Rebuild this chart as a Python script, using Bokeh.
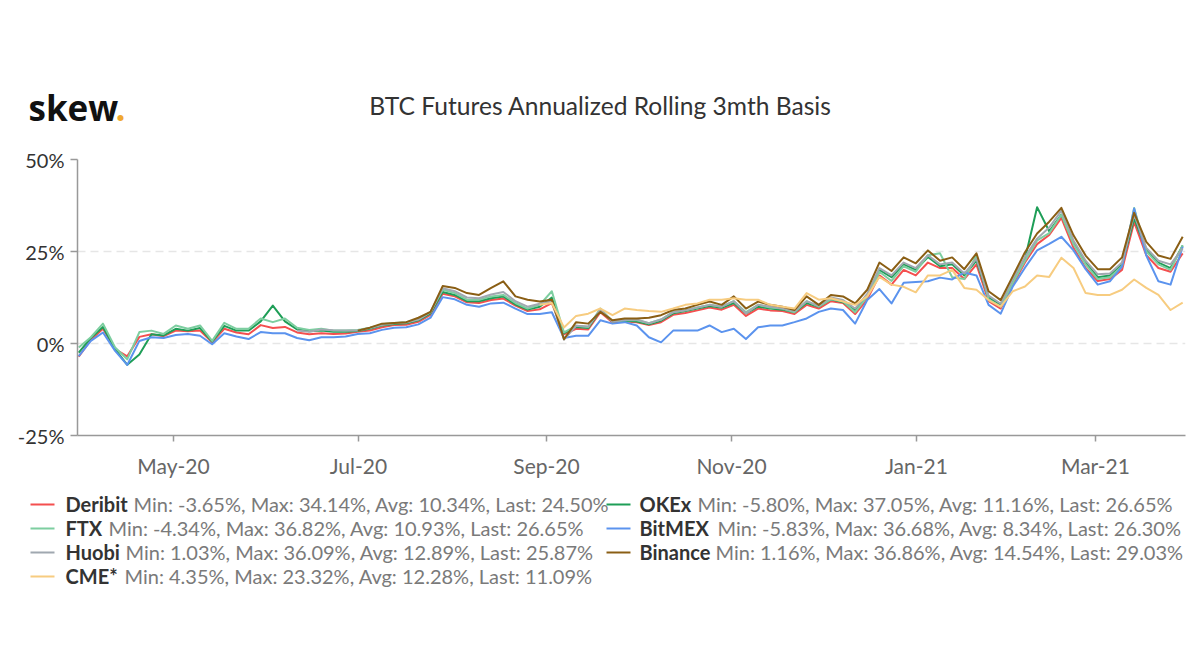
import datetime as dt
from bokeh.plotting import figure
from bokeh.layouts import column
from bokeh.models import Range1d, FixedTicker, DatetimeTickFormatter
from bokeh.core.properties import value
from bokeh.embed import file_html
from bokeh.resources import INLINE

# ---------------- data ----------------
TITLE = "BTC Futures Annualized Rolling 3mth Basis"
LOGO = "skew"
data_start = dt.datetime(2020, 3, 30, 18)
step_days = 4

deribit = [-3.6, 1.0, 4.0, -1.5, -3.5, 1.8, 2.5, 2.0, 3.5, 3.3,
           3.5, 0.3, 4.0, 3.0, 2.5, 5.0, 4.2, 4.5, 3.0, 2.5,
           2.8, 2.6, 2.7, 3.2, 3.5, 4.4, 5.0, 5.1, 5.9, 7.8,
           13.5, 12.8, 11.2, 11.0, 11.8, 12.2, 10.3, 8.8, 9.3, 11.0,
           2.5, 4.0, 3.8, 8.5, 5.7, 6.0, 5.8, 5.0, 5.8, 7.8,
           8.3, 9.0, 9.8, 9.2, 10.5, 7.5, 9.5, 9.0, 8.8, 8.0,
           10.5, 9.5, 11.5, 11.0,
           8.0, 12.0, 18.5, 16.0, 20.0, 18.5, 22.0, 20.5, 20.5, 17.5,
           21.5, 11.5, 9.5, 16.0, 22.0, 27.0, 29.5, 34.14, 26.0, 20.5,
           17.0, 17.5, 20.0, 33.0, 24.0, 20.5, 19.5, 24.5]

okex = [-2.5, 1.5, 4.5, -1.5, -5.8, -3.0, 2.5, 2.2, 4.0, 3.5,
        4.2, 0.5, 4.8, 3.5, 3.5, 6.0, 10.3, 6.0, 3.8, 3.3,
        3.5, 3.2, 3.2, 3.4, 4.0, 4.9, 5.3, 5.5, 6.3, 8.2,
        14.0, 13.2, 11.5, 11.5, 12.3, 12.8, 10.6, 9.2, 10.0, 12.5,
        2.8, 4.5, 4.2, 9.0, 6.0, 6.2, 6.0, 5.2, 6.2, 8.2,
        8.8, 9.5, 10.2, 9.7, 11.0, 8.2, 10.0, 9.5, 9.2, 8.5,
        11.0, 10.0, 12.0, 11.2,
        9.0, 13.0, 20.0, 18.0, 21.5, 20.0, 23.5, 21.0, 21.5, 18.5,
        22.5, 12.5, 10.5, 17.0, 23.0, 37.05, 30.5, 35.0, 27.5, 22.0,
        18.0, 18.5, 21.5, 34.0, 25.5, 22.0, 20.5, 26.65]

ftx = [-1.1, 1.7, 5.4, -1.1, -4.3, 3.1, 3.5, 2.6, 4.9, 4.0,
       4.9, 0.7, 5.6, 4.0, 4.0, 6.8, 5.8, 6.8, 4.3, 3.7,
       4.0, 3.5, 3.5, 3.7, 4.3, 5.2, 5.6, 5.8, 6.6, 8.6,
       14.6, 13.7, 11.9, 11.9, 12.8, 13.2, 11.0, 9.5, 10.5, 14.2,
       3.0, 4.8, 4.5, 9.5, 6.0, 6.3, 6.3, 5.5, 6.5, 8.5,
       9.0, 9.8, 10.5, 10.0, 11.5, 8.5, 10.5, 9.8, 9.5, 8.5,
       11.5, 10.0, 12.0, 11.5,
       8.5, 12.8, 19.5, 17.0, 21.0, 19.5, 24.0, 24.5, 18.0, 17.5,
       24.0, 12.0, 10.0, 16.5, 22.5, 28.0, 30.0, 35.0, 27.0, 21.5,
       17.5, 18.0, 21.0, 36.82, 25.0, 21.5, 20.0, 26.65]

bitmex = [-3.4, 0.7, 3.0, -2.0, -5.83, 0.7, 1.7, 1.5, 2.3, 2.6,
          2.1, -0.2, 2.8, 1.9, 1.2, 3.1, 2.8, 2.8, 1.5, 0.9,
          1.7, 1.7, 1.9, 2.6, 2.8, 3.7, 4.3, 4.4, 5.2, 7.0,
          12.6, 12.0, 10.5, 10.0, 10.9, 11.1, 9.5, 8.0, 8.0, 8.5,
          1.5, 2.1, 2.1, 6.3, 5.4, 5.8, 4.9, 1.7, 0.3, 3.5,
          3.5, 3.5, 4.9, 3.1, 4.0, 1.2, 4.4, 4.9, 4.9, 5.8,
          6.8, 8.6, 9.5, 9.1,
          5.4, 11.8, 14.8, 10.9, 16.5, 16.7, 16.9, 17.9, 17.4, 19.3,
          18.5, 10.5, 8.1, 15.5, 20.6, 25.3, 27.1, 29.0, 25.3, 20.2,
          16.0, 16.9, 20.9, 36.68, 23.9, 16.9, 16.0, 26.3]

huobi = [None] * 18 + [
          3.5, 3.2,
          3.8, 3.6, 3.5, 3.5, 4.2, 5.0, 5.5, 5.7, 6.5, 8.5,
          15.0, 14.2, 12.5, 12.3, 13.3, 14.0, 11.5, 10.0, 10.8, 11.5,
          1.03, 4.8, 4.6, 9.2, 6.0, 6.4, 6.5, 5.5, 6.5, 8.5,
          9.0, 9.8, 10.5, 10.0, 11.5, 8.2, 10.5, 10.0, 9.5, 8.8,
          11.5, 10.2, 12.5, 11.8,
          9.5, 13.5, 20.5, 18.5, 22.0, 20.5, 24.0, 21.5, 22.0, 19.0,
          23.0, 13.0, 10.8, 17.5, 23.5, 28.5, 31.5, 36.09, 28.0, 22.5,
          18.8, 19.0, 22.0, 35.0, 26.0, 22.5, 21.5, 25.87]

binance = [None] * 23 + [
            3.5, 4.3, 5.4, 5.6, 5.8, 7.0, 8.6,
            15.6, 15.1, 13.7, 13.2, 15.1, 16.9, 12.8, 11.9, 11.4, 11.9,
            1.16, 5.8, 5.4, 8.6, 6.3, 6.8, 6.8, 7.0, 7.7, 9.1,
            9.5, 10.5, 11.4, 10.5, 12.8, 9.5, 11.4, 10.5, 10.0, 9.1,
            12.8, 10.5, 13.2, 12.8,
            10.9, 14.6, 22.0, 19.7, 23.4, 21.8, 25.3, 22.5, 23.4, 20.2,
            24.5, 14.2, 11.8, 18.3, 24.8, 29.9, 33.1, 36.86, 29.4, 23.9,
            20.2, 20.2, 23.4, 35.5, 27.6, 23.9, 23.0, 29.03]

cme = [None] * 38 + [
        10.5, 11.0,
        4.35, 7.5, 8.1, 9.5, 7.7, 9.5, 9.1, 8.8, 8.6, 9.5,
        10.5, 10.9, 11.9, 11.9, 12.3, 11.9, 11.9, 10.5, 10.0, 9.5,
        13.7, 11.9, 12.3, 11.4,
        10.5, 12.8, 18.1, 16.0, 15.4, 13.9, 18.5, 18.5, 20.0, 15.1,
        14.6, 11.8, 10.0, 14.2, 15.5, 18.5, 18.1, 23.32, 20.5, 13.7,
        13.2, 13.2, 14.6, 17.4, 15.1, 13.2, 9.1, 11.09]

series_names = ["Deribit", "OKEx", "FTX", "BitMEX", "Huobi", "Binance", "CME*"]
series_values = [deribit, okex, ftx, bitmex, huobi, binance, cme]
series_colors = ["#f44f4f", "#1e9e57", "#7dcea0", "#5b93ee", "#a0a8b0", "#8a5e14", "#f7cc80"]
legend_stats = [
    "Min: -3.65%, Max: 34.14%, Avg: 10.34%, Last: 24.50%",
    "Min: -5.80%, Max: 37.05%, Avg: 11.16%, Last: 26.65%",
    "Min: -4.34%, Max: 36.82%, Avg: 10.93%, Last: 26.65%",
    "Min: -5.83%, Max: 36.68%, Avg: 8.34%, Last: 26.30%",
    "Min: 1.03%, Max: 36.09%, Avg: 12.89%, Last: 25.87%",
    "Min: 1.16%, Max: 36.86%, Avg: 14.54%, Last: 29.03%",
    "Min: 4.35%, Max: 23.32%, Avg: 12.28%, Last: 11.09%",
]
x_tick_dates = [dt.datetime(2020, 5, 1), dt.datetime(2020, 7, 1), dt.datetime(2020, 9, 1),
                dt.datetime(2020, 11, 1), dt.datetime(2021, 1, 1), dt.datetime(2021, 3, 1)]
y_ticks = [-25, 0, 25, 50]
y_tick_labels = ["-25%", "0%", "25%", "50%"]

# ---------------- layout ----------------
W = 1192
HEAD_H, MAIN_H, LEG_H = 138, 350, 174
FONT = "Lato"
x_start = dt.datetime(2020, 3, 30, 8, 24)
x_end = x_start + dt.timedelta(days=365.33)

n = len(deribit)
dates = [data_start + dt.timedelta(days=step_days * i) for i in range(n)]


def clean(vals):
    return [float("nan") if v is None else v for v in vals]


def blank(height):
    f = figure(width=W, height=height, x_range=Range1d(0, W), y_range=Range1d(height, 0),
               x_axis_type=None, y_axis_type=None, toolbar_location=None,
               output_backend="svg", min_border=0, outline_line_color=None,
               frame_align=False)
    f.grid.visible = False
    return f


# header: logo + title (page pixel coordinates)
head = blank(HEAD_H)
head.text(x=[28], y=[107], text=[LOGO], text_font=value("Open Sans"), text_font_style="bold",
          text_font_size="35px", text_color="#111111", text_baseline="middle", text_align="left")
head.text(x=[115], y=[107], text=["."], text_font=value("Open Sans"), text_font_style="bold",
          text_font_size="35px", text_color="#f0a830", text_baseline="middle", text_align="left")
head.text(x=[600], y=[105], text=[TITLE], text_font=value(FONT), text_font_size="24.6px",
          text_color="#333333", text_baseline="middle", text_align="center")

# main chart
p = figure(width=W, height=MAIN_H, x_axis_type="datetime",
           x_range=Range1d(x_start, x_end), y_range=Range1d(-25, 50),
           toolbar_location=None, output_backend="svg",
           min_border_left=77, min_border_right=7, min_border_top=21, min_border_bottom=53,
           outline_line_color=None, frame_align=False)

for vals, col in zip(series_values, series_colors):
    p.line(dates, clean(vals), line_color=col, line_width=2, line_join="round")

p.xgrid.visible = False
p.ygrid.grid_line_color = "#e6e6e6"
p.ygrid.grid_line_dash = "8 5"
p.ygrid.grid_line_width = 1.5

p.yaxis.ticker = FixedTicker(ticks=y_ticks)
p.yaxis.major_label_overrides = {t: l for t, l in zip(y_ticks, y_tick_labels)}
p.xaxis.ticker = FixedTicker(ticks=[d.timestamp() * 1000 for d in x_tick_dates])
p.xaxis.formatter = DatetimeTickFormatter(days="%b-%y", months="%b-%y", years="%b-%y",
                                          hours="%b-%y", context=None)

for ax in (p.xaxis, p.yaxis):
    ax.axis_line_color = "#999999"
    ax.axis_line_width = 1.5
    ax.major_tick_line_color = "#999999"
    ax.major_tick_line_width = 1.5
    ax.major_tick_in = 0
    ax.minor_tick_line_color = None
    ax.major_label_text_font = FONT

p.yaxis.major_tick_out = 7
p.yaxis.major_label_standoff = 6
p.yaxis.major_label_text_font_size = "20px"
p.yaxis.major_label_text_color = "#333333"
p.xaxis.major_tick_out = 6
p.xaxis.major_label_standoff = 11
p.xaxis.major_label_text_font_size = "21px"
p.xaxis.major_label_text_color = "#666666"

# legend (two columns, items flow left to right); y = page y - 488
leg = blank(LEG_H)
col_line_x = [30, 606]
col_name_x = [65, 639]
row_y = [15, 39, 63, 87]
stat_x = {"Deribit": 133, "FTX": 108, "Huobi": 125, "CME*": 124,
          "OKEx": 697, "BitMEX": 717, "Binance": 715}
for k, (name, col, stats) in enumerate(zip(series_names, series_colors, legend_stats)):
    c, r = k % 2, k // 2
    y0 = row_y[r]
    leg.segment(x0=[col_line_x[c]], y0=[y0 + 1], x1=[col_line_x[c] + 24], y1=[y0 + 1],
                line_color=col, line_width=2)
    leg.text(x=[col_name_x[c]], y=[y0], text=[name], text_font=value(FONT),
             text_font_style="bold", text_font_size="20px", text_color="#333333",
             text_baseline="middle", text_align="left")
    leg.text(x=[stat_x[name]], y=[y0], text=[stats], text_font=value(FONT),
             text_font_size="20px", text_color="#7a7a7a",
             text_baseline="middle", text_align="left")

layout = column(head, p, leg, spacing=0)
open("out.html", "w").write(file_html(layout, INLINE))
